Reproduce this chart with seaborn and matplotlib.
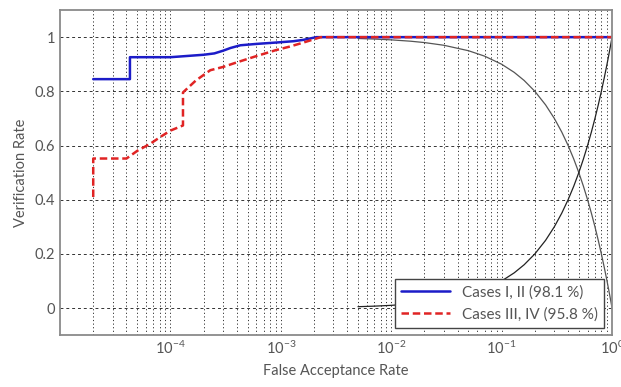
import matplotlib
matplotlib.use("Agg")
import matplotlib.pyplot as plt
import seaborn as sns
from matplotlib.ticker import LogLocator, NullFormatter

# Cases I, II (blue, solid)
blue_far = [2e-5, 4.3e-5, 4.3e-5, 1e-4, 2e-4, 2.5e-4, 3e-4, 3.5e-4, 4.3e-4, 6e-4, 9e-4,
            1.3e-3, 1.6e-3, 2.1e-3, 1.0]
blue_vr = [0.845, 0.845, 0.926, 0.926, 0.935, 0.94, 0.95, 0.96, 0.97, 0.975, 0.98,
           0.985, 0.99, 1.0, 1.0]

# Cases III, IV (red, dashed)
red_far = [2e-5, 2e-5, 4e-5, 5e-5, 6.6e-5, 8e-5, 1e-4, 1.3e-4, 1.3e-4, 1.7e-4, 2.3e-4, 3e-4,
           4e-4, 6e-4, 9e-4, 1.2e-3, 1.6e-3, 2.3e-3, 1.0]
red_vr = [0.41, 0.552, 0.552, 0.58, 0.607, 0.63, 0.655, 0.674, 0.796, 0.84, 0.878, 0.89,
          0.907, 0.93, 0.952, 0.965, 0.98, 1.0, 1.0]

# FAR / FRR reference curves (grey)
thr = [0.005, 0.007, 0.01, 0.015, 0.02, 0.03, 0.05, 0.07, 0.1, 0.13, 0.16, 0.2, 0.25,
       0.3, 0.35, 0.4, 0.45, 0.5, 0.55, 0.6, 0.65, 0.7, 0.75, 0.8, 0.85, 0.9, 0.93,
       0.96, 0.98, 1.0]
rising = [0.005, 0.007, 0.01, 0.015, 0.02, 0.03, 0.05, 0.07, 0.1, 0.13, 0.16, 0.2, 0.25,
          0.3, 0.35, 0.4, 0.45, 0.5, 0.55, 0.6, 0.65, 0.7, 0.75, 0.8, 0.85, 0.9, 0.93,
          0.96, 0.98, 1.0]
falling = [0.995, 0.993, 0.99, 0.985, 0.98, 0.97, 0.95, 0.93, 0.9, 0.87, 0.84, 0.8, 0.75,
           0.7, 0.65, 0.6, 0.55, 0.5, 0.45, 0.4, 0.35, 0.3, 0.25, 0.2, 0.15, 0.1, 0.07,
           0.04, 0.02, 0.0]

y_ticks = [0, 0.2, 0.4, 0.6, 0.8, 1]
y_labels = ["0", "0.2", "0.4", "0.6", "0.8", "1"]
x_ticks = [1e-4, 1e-3, 1e-2, 1e-1, 1e0]
x_labels = [r"$10^{-4}$", r"$10^{-3}$", r"$10^{-2}$", r"$10^{-1}$", r"$10^{0}$"]

sns.set_style("white")
plt.rcParams["font.family"] = ["Lato", "DejaVu Sans"]
plt.rcParams["mathtext.fontset"] = "custom"
plt.rcParams["mathtext.rm"] = "Lato"
plt.rcParams["mathtext.it"] = "Lato"

fig = plt.figure(figsize=(6.21, 3.87), dpi=100)
ax = fig.add_axes([0.0966, 0.134, 0.889, 0.840])

sns.lineplot(x=thr, y=falling, ax=ax, color="#555555", linewidth=0.9,
             estimator=None, sort=False)
sns.lineplot(x=thr, y=rising, ax=ax, color="#222222", linewidth=0.9,
             estimator=None, sort=False)
sns.lineplot(x=blue_far, y=blue_vr, ax=ax, color="#1c1cc8", linewidth=1.8,
             estimator=None, sort=False, label="Cases I, II (98.1 %)")
sns.lineplot(x=red_far, y=red_vr, ax=ax, color="#e02424", linewidth=1.8,
             linestyle=(0, (3, 1.5)), estimator=None, sort=False,
             label="Cases III, IV (95.8 %)")

ax.set_xscale("log")
ax.set_xlim(1e-5, 1)
ax.set_ylim(-0.1, 1.1)
ax.set_xticks(x_ticks)
ax.set_xticklabels(x_labels)
ax.xaxis.set_minor_locator(LogLocator(base=10, subs=range(2, 10), numticks=20))
ax.xaxis.set_minor_formatter(NullFormatter())
ax.set_yticks(y_ticks)
ax.set_yticklabels(y_labels)

ax.grid(True, axis="x", which="both", color="#333333", linewidth=0.7,
        linestyle=(0, (1.2, 2.5)))
ax.grid(True, axis="y", which="major", color="#333333", linewidth=0.7,
        linestyle=(0, (3, 3)))
ax.set_axisbelow(True)

for s in ax.spines.values():
    s.set_color("#8a8a8a")
    s.set_linewidth(1.3)
ax.tick_params(axis="both", which="both", direction="in", colors="#8a8a8a",
               labelcolor="#555555", labelsize=10.5)
ax.tick_params(which="major", length=3)
ax.tick_params(which="minor", length=1.5)

ax.set_xlabel("False Acceptance Rate", fontsize=10.5, color="#555555", labelpad=5)
ax.set_ylabel("Verification Rate", fontsize=10.5, color="#555555", labelpad=5)

leg = ax.legend(loc="lower right", fontsize=11, frameon=True, fancybox=False,
                framealpha=1, edgecolor="#444444", handlelength=3.2,
                borderaxespad=0.5, labelspacing=0.5)
for t in leg.get_texts():
    t.set_color("#555555")
leg.get_frame().set_linewidth(1.0)

fig.savefig("out.png", dpi=100)
